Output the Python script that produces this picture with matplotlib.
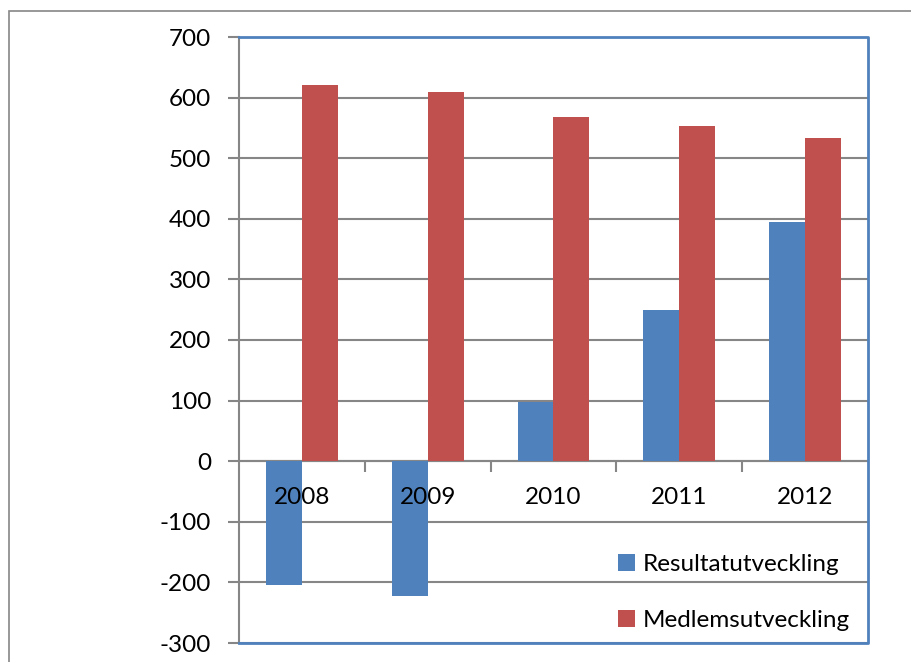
import matplotlib
matplotlib.use("Agg")
import matplotlib.pyplot as plt
import matplotlib.transforms as mtransforms
from matplotlib.patches import Rectangle

years = ["2008", "2009", "2010", "2011", "2012"]
resultat = [-204, -222, 98, 250, 395]
medlem = [620, 609, 568, 553, 533]

blue = "#4F81BD"
red = "#C0504D"
grey = "#868686"

plt.rcParams["font.family"] = ["Lato", "DejaVu Sans"]
plt.rcParams["axes.unicode_minus"] = False

fig = plt.figure(figsize=(9.12, 6.62), dpi=100)
ax = fig.add_axes([239 / 912, 1 - 643 / 662, 629 / 912, 606 / 662])

x = list(range(len(years)))
w = 0.286
ax.bar([i - w / 2 for i in x], resultat, w, color=blue, label="Resultatutveckling", zorder=3)
ax.bar([i + w / 2 for i in x], medlem, w, color=red, label="Medlemsutveckling", zorder=3)

ax.set_xlim(-0.5, len(years) - 0.5)
ax.set_ylim(-300, 700)
ax.set_yticks(range(-300, 701, 100))
ax.tick_params(axis="y", length=8, width=1.5, color=grey, pad=12, labelsize=17.5)
ax.grid(axis="y", color=grey, linewidth=1.5, zorder=0)

# x axis at zero, ticks between categories
ax.spines["bottom"].set_position(("data", 0))
ax.spines["bottom"].set_color(grey)
ax.spines["bottom"].set_linewidth(1.5)
ax.spines["left"].set_color(grey)
ax.spines["left"].set_linewidth(1.5)
for s in ["top", "right"]:
    ax.spines[s].set_visible(False)
ax.set_xticks([i + 0.5 for i in x[:-1]])
ax.set_xticklabels([])
ax.tick_params(axis="x", which="major", length=8, width=1.5, color=grey)

# category labels drawn on top of the bars
off = mtransforms.offset_copy(ax.transData, fig=fig, x=0, y=-36, units="dots")
for i, yr in enumerate(years):
    ax.text(i, 0, yr, transform=off, ha="center", va="center", fontsize=17.5, zorder=6)

# blue plot area border (top, right, bottom)
ax.plot([0, 1, 1, 0], [1, 1, 0, 0], transform=ax.transAxes, color=blue,
        linewidth=2, clip_on=False, zorder=5)

leg = ax.legend(loc="upper left", bbox_to_anchor=(0.584, 0.167), frameon=False,
                fontsize=17.5, borderpad=0, handlelength=0.68, handleheight=0.68,
                handletextpad=0.3, labelspacing=1.45)

# outer chart border
fig.patches.append(Rectangle((9 / 912, -0.1), 1.2, 1.1 - 11 / 662,
                             transform=fig.transFigure, fill=False,
                             edgecolor=grey, linewidth=1.2))

fig.savefig("out.png", dpi=100)
